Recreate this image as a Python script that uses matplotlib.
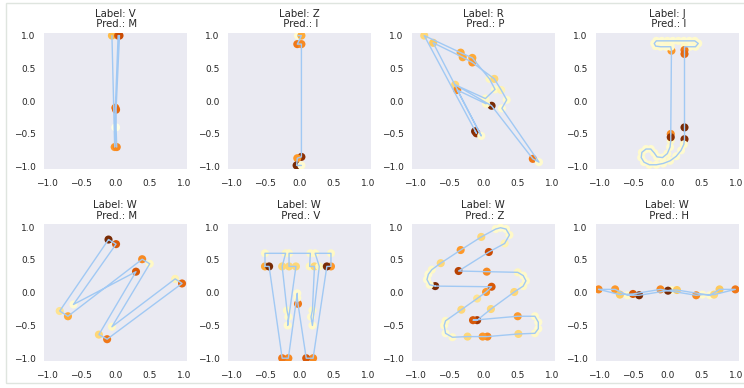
import matplotlib
matplotlib.use("Agg")
import matplotlib.pyplot as plt
import seaborn as sns
from matplotlib.patches import Rectangle

sns.set_style("dark")
plt.rcParams['font.family'] = ['DejaVu Sans']

labels = ["V", "Z", "R", "J", "W", "W", "W", "W"]
preds = ["M", "I", "P", "I", "M", "V", "Z", "H"]
ticks = [-1.0, -0.5, 0.0, 0.5, 1.0]
tick_labels = ["\u22121.0", "\u22120.5", "0.0", "0.5", "1.0"]

# Panel 1: Label V / Pred M
p1_x = [-0.05, -0.01, 0.00, 0.00, 0.04, 0.06, 0.01, 0.01, 0.02]
p1_y = [1.00, -0.70, -0.40, -0.10, 1.00, 1.00, -0.13, -0.40, -0.70]
p1_w = [0.40, 0.50, 0.00, 0.60, 0.70, 0.75, 0.65, 0.00, 0.55]

# Panel 2: Label Z / Pred I
p2_x = [-0.02, 0.03, -0.03, 0.03, 0.03, -0.03, -0.04, 0.03]
p2_y = [1.00, 1.00, 0.87, 0.87, -0.85, -0.87, -0.98, -0.98]
p2_w = [0.06, 0.45, 0.60, 0.55, 0.90, 0.50, 0.95, 0.06]

# Panel 3: Label R / Pred P
p3_x = [-0.12, -0.10, -0.86, -0.33, -0.16, 0.09, 0.17, 0.03, -0.41, 0.12, 0.72,
        0.81, 0.27, 0.34, 0.26, 0.16, -0.16, -0.30, -0.73, -0.03, -0.38, 0.04]
p3_y = [-0.46, -0.49, 1.00, 0.74, 0.66, 0.34, 0.18, 0.04, 0.25, -0.07, -0.88,
        -0.93, -0.11, 0.02, 0.17, 0.34, 0.59, 0.67, 0.89, -0.53, 0.17, -0.04]
p3_w = [0.95, 0.90, 0.30, 0.45, 0.45, 0.12, 0.10, 0.10, 0.30, 0.95, 0.60,
        0.07, 0.07, 0.08, 0.15, 0.30, 0.50, 0.45, 0.35, 0.07, 0.55, 0.10]

# Panel 4: Label J / Pred I
p4_x = [0.05, 0.06, 0.05, -0.02, -0.10, -0.17, -0.19, -0.16, -0.08, 0.00, 0.08,
        0.16, 0.24, 0.32, 0.40, 0.45, 0.41, 0.33, 0.25, 0.25, 0.25, 0.25, 0.25,
        0.24, 0.20, 0.13, 0.04, -0.06, -0.16, -0.26, -0.34, -0.38, -0.37, -0.31,
        -0.24, -0.19, -0.15, -0.07, 0.00, 0.04, 0.05, 0.05]
p4_y = [-0.50, 0.77, 0.83, 0.83, 0.83, 0.84, 0.88, 0.92, 0.92, 0.92, 0.92,
        0.92, 0.92, 0.92, 0.92, 0.88, 0.83, 0.83, 0.83, 0.78, 0.72, -0.40, -0.58,
        -0.66, -0.75, -0.84, -0.91, -0.95, -0.97, -0.97, -0.93, -0.86, -0.78, -0.73,
        -0.73, -0.79, -0.85, -0.86, -0.80, -0.70, -0.60, -0.55]
p4_w = [0.55, 0.50, 0.08, 0.07, 0.07, 0.08, 0.07, 0.07, 0.07, 0.08, 0.07,
        0.08, 0.07, 0.07, 0.08, 0.07, 0.08, 0.07, 0.10, 0.60, 0.65, 0.95, 0.92,
        0.08, 0.07, 0.07, 0.08, 0.07, 0.07, 0.08, 0.07, 0.07, 0.08, 0.07,
        0.07, 0.08, 0.07, 0.07, 0.08, 0.07, 0.10, 0.90]

# Panel 5: Label W / Pred M
p5_x = [-0.10, -0.81, -0.69, 0.39, 0.50, -0.05, 0.87, 0.97, -0.12, -0.24, 0.30, -0.61, 0.01]
p5_y = [0.81, -0.28, -0.36, 0.51, 0.44, -0.52, 0.21, 0.14, -0.71, -0.64, 0.32, -0.18, 0.74]
p5_w = [0.95, 0.25, 0.45, 0.55, 0.10, 0.10, 0.15, 0.65, 0.60, 0.30, 0.70, 0.06, 0.70]

# Panel 6: Label W / Pred V
p6_x = [-0.50, -0.50, -0.20, -0.25, -0.18, -0.16, -0.17, -0.05, -0.15, -0.15, 0.16,
        0.15, 0.22, 0.19, 0.17, 0.19, 0.29, 0.23, 0.46, 0.46, 0.40, 0.20, 0.10,
        -0.02, -0.03, -0.03, -0.16, -0.25, -0.44]
p6_y = [0.40, 0.60, 0.60, 0.40, -0.27, -0.37, -0.50, 0.40, 0.40, 0.60, 0.60,
        0.40, 0.40, -0.27, -0.37, -0.50, 0.40, 0.60, 0.60, 0.40, 0.40, -1.00, -1.00,
        -0.17, -0.08, -0.01, -1.00, -1.00, 0.40]
p6_w = [0.45, 0.10, 0.12, 0.30, 0.10, 0.08, 0.08, 0.30, 0.30, 0.10, 0.10,
        0.12, 0.30, 0.10, 0.08, 0.08, 0.12, 0.10, 0.10, 0.50, 0.95, 0.55, 0.70,
        0.60, 0.08, 0.07, 0.55, 0.60, 0.95]

# Panel 7: Label W / Pred Z
p7_x = [-0.70, -0.78, -0.82, -0.80, -0.75, -0.62, -0.33, -0.03, 0.18, 0.25, 0.33,
        0.38, 0.31, 0.08, -0.36, 0.05, 0.50, 0.58, 0.62, 0.58, 0.45, 0.11, -0.09,
        -0.15, 0.50, 0.75, 0.80, 0.80, 0.75, 0.51, 0.06, -0.01, -0.23, -0.45, -0.55,
        -0.57, -0.55, -0.32, -0.09, 0.04, 0.12]
p7_y = [0.10, 0.12, 0.20, 0.28, 0.35, 0.45, 0.65, 0.85, 0.97, 0.99, 0.97,
        0.88, 0.75, 0.62, 0.33, 0.32, 0.31, 0.26, 0.18, 0.10, 0.01, -0.25, -0.42,
        -0.42, -0.36, -0.36, -0.45, -0.55, -0.62, -0.63, -0.67, -0.67, -0.67, -0.68, -0.62,
        -0.50, -0.43, -0.26, -0.09, 0.01, 0.09]
p7_w = [0.95, 0.08, 0.07, 0.07, 0.10, 0.30, 0.50, 0.30, 0.08, 0.07, 0.07,
        0.09, 0.15, 0.75, 0.80, 0.55, 0.12, 0.08, 0.08, 0.10, 0.30, 0.30, 0.85,
        0.70, 0.50, 0.08, 0.07, 0.07, 0.09, 0.30, 0.55, 0.50, 0.30, 0.09, 0.07,
        0.08, 0.10, 0.30, 0.25, 0.50, 0.70]

# Panel 8: Label W / Pred H
p8_x = [-1.00, -0.76, -0.58, -0.41, 0.06, 0.14, 0.62, 0.76, 0.99, 0.68, 0.51,
        0.42, 0.01, -0.10, -0.50, -0.69]
p8_y = [0.05, 0.05, -0.04, -0.04, 0.04, 0.04, -0.04, 0.05, 0.05, -0.03, -0.03,
        -0.04, 0.03, 0.05, -0.02, -0.03]
p8_w = [0.55, 0.50, 0.08, 0.95, 0.10, 0.35, 0.08, 0.35, 0.60, 0.30, 0.08,
        0.55, 0.95, 0.55, 0.70, 0.35]

panels = [
    (p1_x, p1_y, p1_w, False),
    (p2_x, p2_y, p2_w, False),
    (p3_x, p3_y, p3_w, False),
    (p4_x, p4_y, p4_w, True),
    (p5_x, p5_y, p5_w, True),
    (p6_x, p6_y, p6_w, True),
    (p7_x, p7_y, p7_w, True),
    (p8_x, p8_y, p8_w, True),
]

fig, axes = plt.subplots(2, 4, figsize=(7.44, 3.88), dpi=100)
fig.subplots_adjust(left=0.059, right=0.993, top=0.915, bottom=0.07,
                    wspace=0.287, hspace=0.404)

for i, ax in enumerate(axes.flat):
    x, y, w, closed = panels[i]
    ax.scatter(x, y, c=w, cmap="YlOrBr", vmin=0, vmax=1, s=34,
               edgecolors="none", zorder=2)
    lx = list(x) + ([x[0]] if closed else [])
    ly = list(y) + ([y[0]] if closed else [])
    ax.plot(lx, ly, color="#a1c9f4", lw=1.0, zorder=3)
    ax.set_xlim(-1.04, 1.04)
    ax.set_ylim(-1.04, 1.04)
    ax.set_xticks(ticks)
    ax.set_yticks(ticks)
    ax.set_xticklabels(tick_labels, fontsize=6.5, color="#262626")
    ax.set_yticklabels(tick_labels, fontsize=6.5, color="#262626")
    ax.tick_params(axis="x", length=0, pad=7)
    ax.tick_params(axis="y", length=0, pad=6)
    ax.set_title(f"Label: {labels[i]}\n Pred.: {preds[i]}", fontsize=7.3,
                 color="#262626", pad=4, linespacing=1.1)
    for s in ax.spines.values():
        s.set_visible(False)

fig.patches.append(Rectangle((6 / 744, 5 / 388), 1.0, 380 / 388,
                             transform=fig.transFigure, fill=False,
                             edgecolor="#dfe5df", lw=1.0))

fig.savefig("out.png", dpi=100)
